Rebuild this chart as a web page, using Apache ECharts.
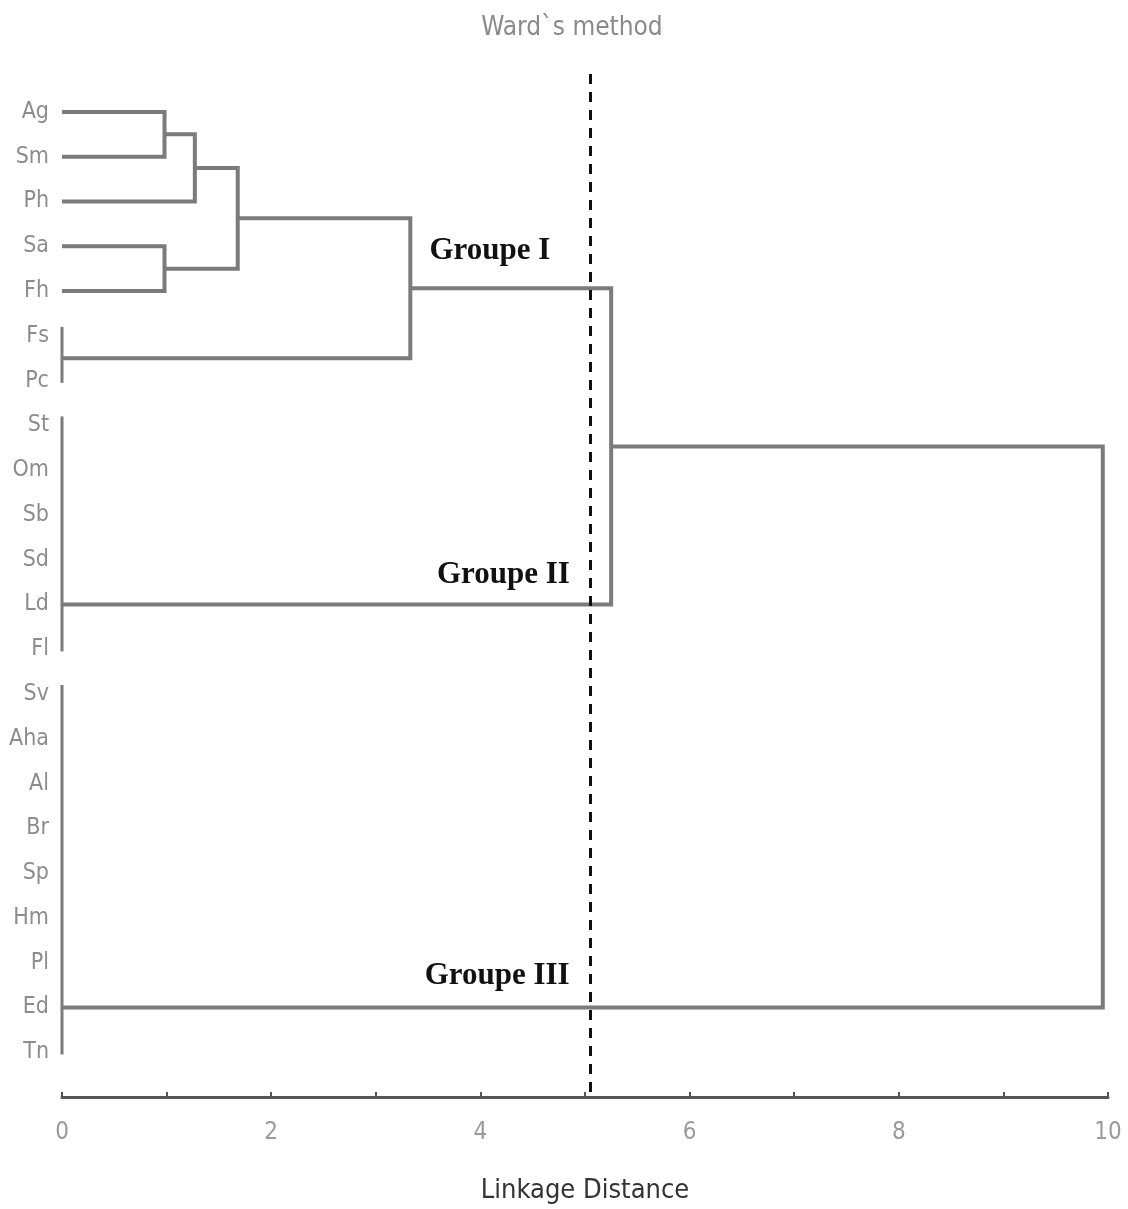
<!DOCTYPE html>
<html><head><meta charset="utf-8">
<script src="https://cdn.jsdelivr.net/npm/echarts@6/dist/echarts.min.js"></script>
<style>html,body{margin:0;padding:0;background:#fff}#c{width:1128px;height:1209px}</style>
</head><body><div id="c"></div>
<script>
// ---- data ----
const leafLabels = ['Ag','Sm','Ph','Sa','Fh','Fs','Pc','St','Om','Sb','Sd','Ld','Fl','Sv','Aha','Al','Br','Sp','Hm','Pl','Ed','Tn'];
// clusters joined at distance 0
const tieIds = ['FsPc','G2','G3'];
const tieMembers = [['Fs','Pc'], ['St','Om','Sb','Sd','Ld','Fl'], ['Sv','Aha','Al','Br','Sp','Hm','Pl','Ed','Tn']];
const tieStem = [null, 'Ld', 'Ed'];
// merges (Ward's method)
const mergeIds    = ['AgSm','AgSmPh','SaFh','C1','GI','G12','All'];
const mergeLeft   = ['Ag',  'AgSm',  'Sa',  'AgSmPh','C1','GI','G12'];
const mergeRight  = ['Sm',  'Ph',    'Fh',  'SaFh','FsPc','G2','G3'];
const mergeHeight = [0.98,  1.27,    0.98,  1.68,  3.33,  5.25, 9.95];
const cutHeight = 5.05;
const groupNames = ['Groupe I','Groupe II','Groupe III'];
const groupAt = [[4.09, 3.1],[4.22, 10.33],[4.16, 19.3]];

// ---- build tree geometry from data ----
const node = {};
leafLabels.forEach((l,i)=>{ node[l] = {h:0, y:i}; });
const tieSegs = [];
tieIds.forEach((id,k)=>{
  const rows = tieMembers[k].map(m=>leafLabels.indexOf(m));
  const y0 = Math.min(...rows), y1 = Math.max(...rows);
  const ys = tieStem[k] ? leafLabels.indexOf(tieStem[k]) : (y0+y1)/2;
  node[id] = {h:0, y:ys};
  tieSegs.push([0, y0 - 0.2, 0, y1 + 0.05, 0]);
});
const elbows = [];
mergeIds.forEach((id,k)=>{
  const a = node[mergeLeft[k]], b = node[mergeRight[k]], m = mergeHeight[k];
  elbows.push([a.h, a.y, b.h, b.y, m]);
  node[id] = {h:m, y:(a.y+b.y)/2};
});

function renderElbow(params, api){
  const p1 = api.coord([api.value(0), api.value(1)]);
  const p2 = api.coord([api.value(4), api.value(1)]);
  const p3 = api.coord([api.value(4), api.value(3)]);
  const p4 = api.coord([api.value(2), api.value(3)]);
  return {type:'polyline', shape:{points:[p1,p2,p3,p4]},
    style:{stroke:'#7b7b7b', lineWidth: params.seriesIndex===0 ? 4 : 3, fill:null, lineJoin:'miter'}};
}

const narrow = '"Liberation Sans Narrow","DejaVu Sans Condensed","Roboto",sans-serif';
const chart = echarts.init(document.getElementById('c'));
chart.setOption({
  animation:false,
  title:{text:"Ward`s method", left:567, top:10, textAlign:'center',
    textStyle:{color:'#8a8a8a', fontFamily:narrow, fontSize:26, fontWeight:'normal'}},
  grid:{left:62, right:20, top:67.2, bottom:1209-1097.6},
  xAxis:{type:'value', min:0, max:10, interval:1,
    name:'Linkage Distance', nameLocation:'middle', nameGap:80,
    nameTextStyle:{color:'#333', fontFamily:narrow, fontSize:27},
    axisLine:{show:true, onZero:false, lineStyle:{color:'#555', width:3}},
    axisTick:{show:true, inside:true, length:5, lineStyle:{color:'#555', width:2}},
    axisLabel:{margin:24, color:'#9a9a9a', fontFamily:narrow, fontSize:24,
      formatter:v=> (v%2===0 ? String(v) : '')},
    splitLine:{show:false}},
  yAxis:{type:'value', min:-1, max:22, inverse:true, interval:1,
    axisLine:{show:false}, axisTick:{show:false}, splitLine:{show:false},
    axisLabel:{show:true, margin:13, color:'#8c8c8c', fontFamily:narrow, fontSize:23,
      formatter:v=> (v>=0 && Number.isInteger(v) && v<leafLabels.length) ? leafLabels[v] : ''}},
  series:[
    {type:'custom', renderItem:renderElbow, data:elbows, encode:{x:[0,2,4], y:[1,3]}, silent:true,
      markLine:{silent:true, symbol:'none', label:{show:false},
        lineStyle:{color:'#111', type:[10,8], width:3},
        data:[[{coord:[cutHeight,-0.85]},{coord:[cutHeight,21.95]}]]},
      markPoint:{symbol:'rect', symbolSize:0,
        label:{show:true, formatter:p=>p.name, color:'#111', fontFamily:'"Liberation Serif","DejaVu Serif",serif',
          fontWeight:'bold', fontSize:31},
        data: groupNames.map((n,i)=>({name:n, coord:groupAt[i]}))}},
    {type:'custom', renderItem:renderElbow, data:tieSegs, encode:{x:[0,2,4], y:[1,3]}, silent:true}
  ]
});
</script></body></html>
